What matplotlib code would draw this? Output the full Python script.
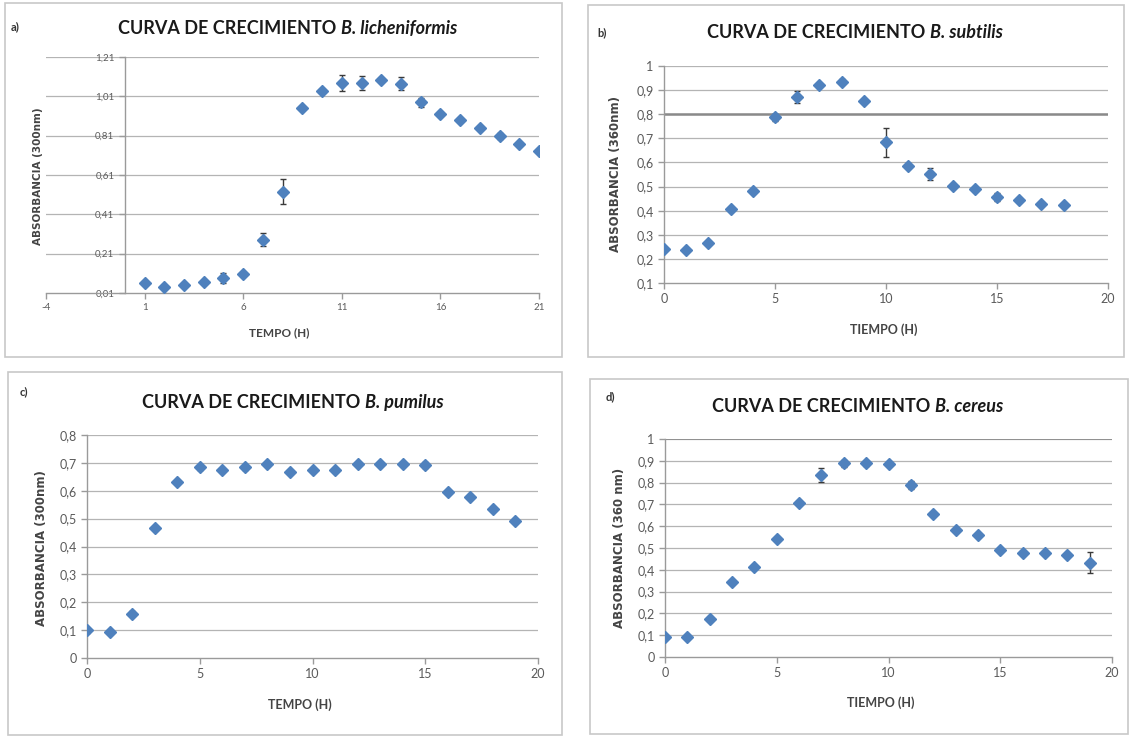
import matplotlib
matplotlib.use("Agg")
import matplotlib.pyplot as plt
from matplotlib.patches import Rectangle
from matplotlib.ticker import FuncFormatter

plt.rcParams['font.family'] = ['Lato', 'DejaVu Sans']

# curva a) B. licheniformis
t_a = list(range(1, 22))
abs_a = [0.061, 0.041, 0.049, 0.064, 0.088, 0.109, 0.282, 0.525, 0.950, 1.035, 1.078,
         1.078, 1.092, 1.075, 0.979, 0.920, 0.888, 0.848, 0.809, 0.768, 0.733]
err_a = [0.005, 0.005, 0.005, 0.005, 0.026, 0.008, 0.034, 0.063, 0.010, 0.008, 0.042,
         0.034, 0.008, 0.034, 0.025, 0.008, 0.008, 0.008, 0.015, 0.008, 0.010]

# curva b) B. subtilis
t_b = list(range(0, 19))
abs_b = [0.243, 0.238, 0.266, 0.406, 0.481, 0.787, 0.873, 0.921, 0.935, 0.856,
         0.683, 0.586, 0.554, 0.504, 0.489, 0.457, 0.443, 0.427, 0.423]
err_b = [0.005, 0.005, 0.008, 0.005, 0.005, 0.015, 0.025, 0.005, 0.010, 0.005,
         0.060, 0.010, 0.025, 0.008, 0.005, 0.015, 0.008, 0.008, 0.005]

# curva c) B. pumilus
t_c = list(range(0, 20))
abs_c = [0.099, 0.093, 0.159, 0.467, 0.632, 0.684, 0.674, 0.684, 0.695, 0.668,
         0.674, 0.673, 0.696, 0.695, 0.695, 0.692, 0.596, 0.578, 0.534, 0.491]
err_c = [0.008, 0.005, 0.010, 0.005, 0.005, 0.010, 0.008, 0.010, 0.008, 0.005,
         0.005, 0.005, 0.008, 0.008, 0.005, 0.010, 0.005, 0.005, 0.005, 0.005]

# curva d) B. cereus
t_d = list(range(0, 20))
abs_d = [0.092, 0.092, 0.173, 0.345, 0.413, 0.541, 0.708, 0.835, 0.888, 0.888,
         0.884, 0.789, 0.655, 0.582, 0.559, 0.490, 0.479, 0.479, 0.470, 0.433]
err_d = [0.005, 0.005, 0.010, 0.008, 0.008, 0.008, 0.005, 0.030, 0.015, 0.010,
         0.008, 0.020, 0.008, 0.008, 0.008, 0.005, 0.005, 0.005, 0.005, 0.048]

W, H = 1130, 736
fig = plt.figure(figsize=(W / 100, H / 100), dpi=100)


def fx(x):
    return x / W


def fy(y):
    return 1 - y / H


def coma(v, pos):
    s = f"{round(v, 2):g}"
    return s.replace('.', ',')


def marco(x0, y0, x1, y1):
    fig.patches.append(Rectangle((fx(x0), fy(y1)), fx(x1) - fx(x0), fy(y0) - fy(y1),
                                 transform=fig.transFigure, fill=False,
                                 edgecolor='#c8c8c8', linewidth=1.2))


def panel(box, t, y, e, xlim, xticks, ylim, yticks, tick_fs):
    ax = fig.add_axes([fx(box[0]), fy(box[3]), fx(box[1]) - fx(box[0]), fy(box[2]) - fy(box[3])])
    ax.set_xlim(*xlim)
    ax.set_ylim(*ylim)
    ax.set_xticks(xticks)
    ax.set_yticks(yticks)
    ax.yaxis.set_major_formatter(FuncFormatter(coma))
    ax.xaxis.set_major_formatter(FuncFormatter(coma))
    for v in yticks[1:]:
        ax.axhline(v, color='#b4b4b4', linewidth=0.9, zorder=0)
    for s in ['top', 'right']:
        ax.spines[s].set_visible(False)
    for s in ['left', 'bottom']:
        ax.spines[s].set_color('#9a9a9a')
        ax.spines[s].set_linewidth(1.0)
    ax.tick_params(colors='#9a9a9a', length=4, width=1.0, labelsize=tick_fs,
                   labelcolor='#5a5a5a')
    ax.errorbar(t, y, yerr=e, fmt='none', ecolor='#3a3a3a', elinewidth=1.0,
                capsize=2.5, capthick=1.0, zorder=2)
    ax.plot(t, y, linestyle='none', marker='D', markersize=6.3,
            color='#4f81bd', zorder=3)
    return ax


def titulo(x, y, especie, fs=13):
    # parte recta + nombre de la especie en cursiva pegado a continuacion
    t1 = fig.text(fx(x), fy(y), 'CURVA DE CRECIMIENTO ', fontsize=fs,
                  fontweight='bold', color='#1a1a1a', ha='left', va='baseline')
    fig.axes[0].annotate(especie, xy=(1, 0), xycoords=t1, fontsize=fs,
                         fontweight='bold', style='italic', color='#1a1a1a',
                         ha='left', va='bottom', annotation_clip=False)


# marcos de cada grafico
marco(5, 3, 562, 357)
marco(588, 5, 1124, 357)
marco(8, 372, 562, 735)
marco(590, 379, 1128, 734)

# a)
ax_a = panel((46, 539, 57, 293), t_a, abs_a, err_a, (-4, 21), [-4, 1, 6, 11, 16, 21],
             (0.01, 1.21), [0.01, 0.21, 0.41, 0.61, 0.81, 1.01, 1.21], 7)
ax_a.spines['left'].set_position(('data', 0))
ax_a.yaxis.set_major_formatter(FuncFormatter(lambda v, p: f"{v:.2f}".replace('.', ',')))

# b)
ax_b = panel((664, 1108, 66, 283), t_b, abs_b, err_b, (0, 20), [0, 5, 10, 15, 20],
             (0.1, 1.0), [0.1, 0.2, 0.3, 0.4, 0.5, 0.6, 0.7, 0.8, 0.9, 1.0], 9)
ax_b.axhline(0.8, color='#8a8a8a', linewidth=1.8, zorder=1)

# c)
ax_c = panel((87, 538, 435, 658), t_c, abs_c, err_c, (0, 20), [0, 5, 10, 15, 20],
             (0, 0.8), [0, 0.1, 0.2, 0.3, 0.4, 0.5, 0.6, 0.7, 0.8], 9)

# d)
ax_d = panel((665, 1112, 439, 657), t_d, abs_d, err_d, (0, 20), [0, 5, 10, 15, 20],
             (0, 1.0), [0, 0.1, 0.2, 0.3, 0.4, 0.5, 0.6, 0.7, 0.8, 0.9, 1.0], 9)
ax_d.axhline(1.0, color='#8a8a8a', linewidth=1.2, zorder=1)

# titulos
titulo(118, 34, 'B. licheniformis')
titulo(707, 38, 'B. subtilis')
titulo(142, 408, 'B. pumilus')
titulo(712, 412, 'B. cereus')

# letras de los paneles
for x, y, s in [(11, 27, 'a)'), (597, 33, 'b)'), (20, 392, 'c)'), (606, 397, 'd)')]:
    fig.text(fx(x), fy(y), s, fontsize=8, fontweight='bold', color='#333333',
             ha='left', va='center')

# etiquetas de los ejes
lab = dict(fontsize=9, fontweight='bold', color='#444444', ha='center', va='center')
fig.text(fx(279), fy(333), 'TEMPO (H)', fontsize=8.5,
         **{k: v for k, v in lab.items() if k != 'fontsize'})
fig.text(fx(884), fy(330), 'TIEMPO (H)', **lab)
fig.text(fx(300), fy(705), 'TEMPO (H)', **lab)
fig.text(fx(881), fy(703), 'TIEMPO (H)', **lab)

ylab = dict(fontweight='bold', color='#444444', ha='center', va='center',
            rotation=90, family='DejaVu Sans')
fig.text(fx(38), fy(176), 'ABSORBANCIA (300nm)', fontsize=7.5, **ylab)
fig.text(fx(616), fy(174), 'ABSORBANCIA (360nm)', fontsize=8.5, **ylab)
fig.text(fx(42), fy(548), 'ABSORBANCIA (300nm)', fontsize=8.5, **ylab)
fig.text(fx(620), fy(548), 'ABSORBANCIA (360 nm)', fontsize=8.5, **ylab)

fig.savefig('out.png', dpi=100, facecolor='white')
